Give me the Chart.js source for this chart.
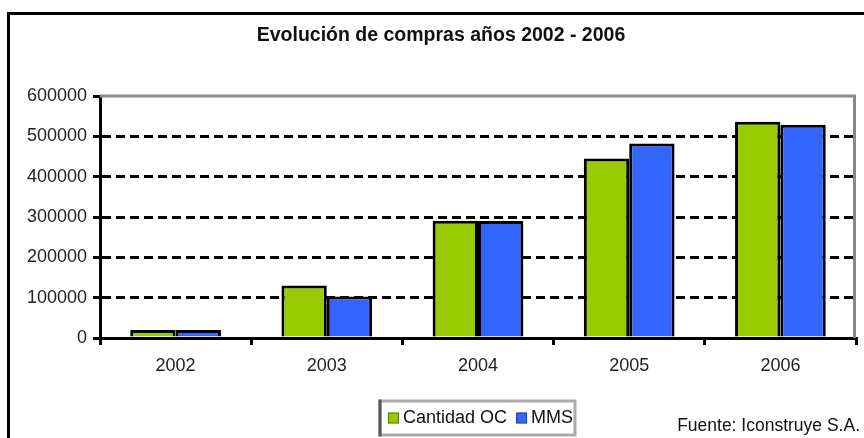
<!DOCTYPE html>
<html>
<head>
<meta charset="utf-8">
<script src="https://cdn.jsdelivr.net/npm/chart.js@4"></script>
<style>
  html, body { margin: 0; padding: 0; background: #fff; }
  canvas { display: block; }
</style>
</head>
<body>
<canvas id="myChart" width="864" height="438"></canvas>
<script>
// Chart data
const years = ['2002', '2003', '2004', '2005', '2006'];
const cantidadOC = [20000, 130000, 291000, 445000, 536000];
const mms = [20000, 103000, 290000, 482000, 529000];
const yTicks = [0, 100000, 200000, 300000, 400000, 500000, 600000];

const titleText = 'Evolución de compras años 2002 - 2006';
const sourceText = 'Fuente: Iconstruye S.A.';
const FONT = '"Liberation Sans", Arial, sans-serif';

// Frame, title, plot border, legend box and source note
const decorations = {
    id: 'decorations',
    beforeDraw(chart) {
        const c = chart.ctx;
        c.save();
        c.fillStyle = '#fff';
        c.fillRect(0, 0, chart.width, chart.height);
        // outer frame (top and left edges visible)
        c.strokeStyle = '#000';
        c.lineWidth = 3;
        c.beginPath();
        c.moveTo(8.5, chart.height);
        c.lineTo(8.5, 13.5);
        c.lineTo(chart.width, 13.5);
        c.stroke();
        // title
        c.fillStyle = '#111';
        c.font = 'bold 19.5px ' + FONT;
        c.textAlign = 'center';
        c.textBaseline = 'middle';
        c.fillText(titleText, 441, 36);
        c.restore();
    },
    beforeDatasetsDraw(chart) {
        const c = chart.ctx;
        const a = chart.chartArea;
        c.save();
        c.strokeStyle = '#888';
        c.lineWidth = 3;
        c.beginPath();
        c.moveTo(a.left, a.top);
        c.lineTo(a.right - 1.5, a.top);
        c.lineTo(a.right - 1.5, a.bottom);
        c.stroke();
        c.restore();
    },
    afterDraw(chart) {
        const c = chart.ctx;
        c.save();
        // legend box
        const bx = 380, by = 401, bw = 195, bh = 34;
        c.strokeStyle = '#aaa';
        c.lineWidth = 3;
        c.strokeRect(bx, by, bw, bh);
        c.strokeStyle = '#555';
        c.beginPath();
        c.moveTo(bx, by - 1.5);
        c.lineTo(bx, by + bh + 1.5);
        c.stroke();

        c.font = '18px ' + FONT;
        c.textAlign = 'left';
        c.textBaseline = 'middle';
        let x = bx + 8;
        const yMid = 418;
        chart.data.datasets.forEach(ds => {
            c.fillStyle = ds.backgroundColor;
            c.fillRect(x, yMid - 5.5, 11, 11);
            c.strokeStyle = 'rgba(0,0,0,0.45)';
            c.lineWidth = 1;
            c.strokeRect(x + 0.5, yMid - 5, 10, 10);
            x += 15;
            c.fillStyle = '#111';
            c.fillText(ds.label, x, yMid);
            x += c.measureText(ds.label).width + 9;
        });

        // source note
        c.font = '17.5px ' + FONT;
        c.textAlign = 'right';
        c.fillStyle = '#111';
        c.fillText(sourceText, 860, 426);
        c.restore();
    }
};

const ctx = document.getElementById('myChart').getContext('2d');

const myChart = new Chart(ctx, {
    type: 'bar',
    data: {
        labels: years,
        datasets: [{
            label: 'Cantidad OC',
            data: cantidadOC,
            backgroundColor: '#99CC00',
            borderColor: '#000',
            borderWidth: 3
        }, {
            label: 'MMS',
            data: mms,
            backgroundColor: '#3366FF',
            borderColor: '#000',
            borderWidth: 3
        }]
    },
    options: {
        responsive: false,
        animation: false,
        devicePixelRatio: 1,
        layout: {
            padding: { top: 96, right: 8, left: 0, bottom: 0 }
        },
        datasets: {
            bar: {
                categoryPercentage: 0.6,
                barPercentage: 1.0
            }
        },
        plugins: {
            legend: { display: false },
            title: { display: false },
            tooltip: { enabled: false }
        },
        scales: {
            x: {
                afterFit: (scale) => { scale.height = 100; },
                grid: {
                    drawOnChartArea: false,
                    drawTicks: true,
                    tickLength: 7,
                    tickColor: '#000',
                    tickWidth: 3,
                    color: '#000',
                    lineWidth: 3
                },
                border: { display: true, color: '#000', width: 3 },
                ticks: {
                    color: '#222',
                    padding: 10,
                    font: { family: FONT, size: 18 }
                }
            },
            y: {
                min: 0,
                max: 600000,
                afterFit: (scale) => { scale.width = 100; },
                afterBuildTicks: (scale) => {
                    scale.ticks = yTicks.map(v => ({ value: v }));
                },
                grid: {
                    color: (c) => (c.tick && (c.tick.value === 0 || c.tick.value === 600000)) ? 'rgba(0,0,0,0)' : '#000',
                    lineWidth: 3,
                    tickLength: 7,
                    tickColor: '#000',
                    tickWidth: 3,
                    tickBorderDash: []
                },
                border: { display: true, color: '#000', width: 3, dash: [9, 5] },
                ticks: {
                    color: '#222',
                    padding: 6,
                    font: { family: FONT, size: 18 },
                    callback: (v) => String(v)
                }
            }
        }
    },
    plugins: [decorations]
});
</script>
</body>
</html>
